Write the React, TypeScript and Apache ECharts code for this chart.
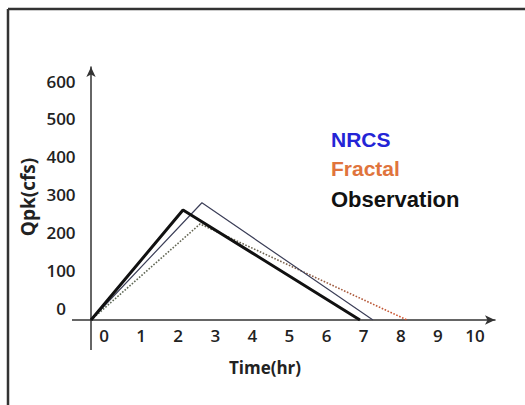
import React, { useEffect, useRef } from "react";
import * as echarts from "echarts";

const xTickValues = [0, 1, 2, 3, 4, 5, 6, 7, 8, 9, 10];
const yTickValues = [0, 100, 200, 300, 400, 500, 600];

const observationData: [number, number][] = [
  [0, 0],
  [2.48, 291],
  [7.25, 0],
];
const nrcsData: [number, number][] = [
  [0, 0],
  [2.99, 310],
  [7.6, 0],
];
const fractalData: [number, number][] = [
  [0, 0],
  [2.94, 254],
  [8.52, 0],
];

const legendNames = ["NRCS", "Fractal", "Observation"];
const legendColors = ["#2424d6", "#e0743c", "#111111"];

export default function App() {
  const ref = useRef<HTMLDivElement>(null);
  useEffect(() => {
    if (!ref.current) return;
    const chart = echarts.init(ref.current, undefined, { renderer: "svg" });
    const tickFont = {
      fontFamily: "Open Sans",
      fontSize: 17,
      fontWeight: 600,
      color: "#222",
    };
    const axisLineStyle = { color: "#333", width: 1.5 };
    chart.setOption({
      animation: false,
      backgroundColor: "#ffffff",
      grid: { left: 91, right: 30, top: 67, bottom: 85 },
      xAxis: {
        type: "value",
        min: 0,
        max: 10.89,
        axisLine: {
          show: true,
          symbol: ["none", "arrow"],
          symbolSize: [7, 10],
          lineStyle: axisLineStyle,
        },
        axisTick: { show: false },
        splitLine: { show: false },
        axisLabel: {
          ...tickFont,
          customValues: xTickValues,
          margin: 7,
          padding: [0, 0, 0, 26],
        },
      },
      yAxis: {
        type: "value",
        min: 0,
        max: 669,
        axisLine: {
          show: true,
          symbol: ["none", "arrow"],
          symbolSize: [7, 10],
          lineStyle: axisLineStyle,
        },
        axisTick: { show: false },
        splitLine: { show: false },
        axisLabel: {
          ...tickFont,
          customValues: yTickValues,
          align: "center",
          verticalAlign: "bottom",
          lineHeight: 24,
          margin: 30,
        },
      },
      series: [
        {
          name: "Fractal",
          type: "line",
          data: fractalData,
          symbol: "none",
          lineStyle: {
            width: 1.6,
            type: "dotted",
            color: new echarts.graphic.LinearGradient(0, 0, 1, 0, [
              { offset: 0, color: "#5c6a58" },
              { offset: 0.55, color: "#6b6350" },
              { offset: 1, color: "#d4542e" },
            ]),
          },
        },
        {
          name: "NRCS",
          type: "line",
          data: nrcsData,
          symbol: "none",
          lineStyle: { width: 1.2, color: "#3c3f58" },
        },
        {
          name: "Observation",
          type: "line",
          data: observationData,
          symbol: "none",
          lineStyle: { width: 3, color: "#111" },
        },
      ],
      graphic: [
        {
          type: "line",
          shape: { x1: 8, y1: 9, x2: 525, y2: 9 },
          style: { stroke: "#333", lineWidth: 2.5 },
        },
        {
          type: "line",
          shape: { x1: 8, y1: 9, x2: 8, y2: 405 },
          style: { stroke: "#333", lineWidth: 2.5 },
        },
        {
          type: "line",
          shape: { x1: 72, y1: 320, x2: 91, y2: 320 },
          style: { stroke: "#333", lineWidth: 1.5 },
        },
        {
          type: "line",
          shape: { x1: 91, y1: 320, x2: 91, y2: 350 },
          style: { stroke: "#333", lineWidth: 1.5 },
        },
        {
          type: "text",
          x: 265,
          y: 367,
          style: {
            text: "Time(hr)",
            fontFamily: "Open Sans",
            fontSize: 17,
            fontWeight: 700,
            fill: "#222",
            textAlign: "center",
            textVerticalAlign: "middle",
          },
        },
        {
          type: "text",
          x: 28,
          y: 197,
          rotation: Math.PI / 2,
          style: {
            text: "Qpk(cfs)",
            fontFamily: "Open Sans",
            fontSize: 19,
            fontWeight: 700,
            fill: "#222",
            textAlign: "center",
            textVerticalAlign: "middle",
          },
        },
        ...legendNames.map((name, i) => ({
          type: "text",
          x: 331,
          y: [139, 168, 199][i],
          style: {
            text: name,
            fontFamily: "Liberation Sans",
            fontSize: i === 2 ? 22 : 21,
            fontWeight: 700,
            fill: legendColors[i],
            textAlign: "left",
            textVerticalAlign: "middle",
          },
        })),
      ],
    });
    return () => chart.dispose();
  }, []);
  return (
    <div
      ref={ref}
      style={{ position: "fixed", left: 0, top: 0, width: 525, height: 405 }}
    />
  );
}
